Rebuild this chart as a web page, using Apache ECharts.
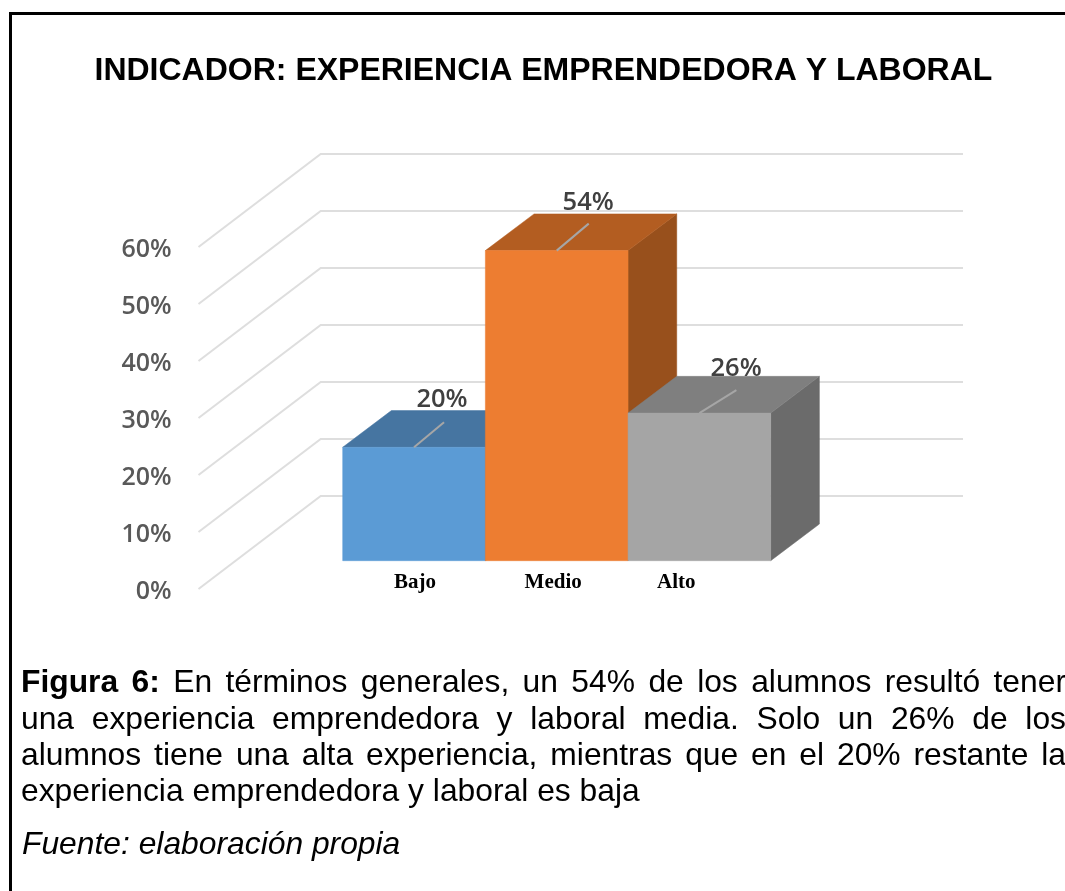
<!DOCTYPE html>
<html><head><meta charset="utf-8">
<style>html,body{margin:0;padding:0;background:#fff}#c{width:1065px;height:891px}</style>
<script src="https://cdn.jsdelivr.net/npm/echarts@6/dist/echarts.min.js"></script>
</head><body><div id="c"></div>
<script>
const categories = ['Bajo', 'Medio', 'Alto'];
const values = [19.9, 54.4, 25.9];
const yTicks = [0, 10, 20, 30, 40, 50, 60];
const titleText = 'INDICADOR: EXPERIENCIA EMPRENDEDORA Y LABORAL';
const bodyBold = ['Figura', '6:'];
const bodyLines = [
  'En términos generales, un 54% de los alumnos resultó tener',
  'una experiencia emprendedora y laboral media. Solo un 26% de los',
  'alumnos tiene una alta experiencia, mientras que en el 20% restante la'
];
const bodyLast = 'experiencia emprendedora y laboral es baja';
const sourceText = 'Fuente: elaboración propia';

const palette = [
  {front: '#5B9BD5', top: '#4675A1', side: '#3E6890'},
  {front: '#ED7D31', top: '#B35D21', side: '#98501C'},
  {front: '#A5A5A5', top: '#7F7F7F', side: '#6B6B6B'}
];
const leaderDx = [30, 32, 37], leaderDy = [-25, -27, -23];
const labelDx = [28, 31.5, 36.7], labelDy = [-47.5, -47.5, -44.5];
const catDx = [1, -3.5, -23];
const chart = echarts.init(document.getElementById('c'));

const BF = 'Liberation Sans';
const bodySize = 31.8, lineCy = [683, 720, 756.5, 792.5];
const ctx = document.createElement('canvas').getContext('2d');
const g = [
  {type: 'rect', shape: {x: 9, y: 12, width: 1056, height: 3}, style: {fill: '#000'}},
  {type: 'rect', shape: {x: 9, y: 12, width: 3, height: 879}, style: {fill: '#000'}},
  {type: 'text', style: {text: titleText, x: 94.5, y: 71, font: 'bold 32px "' + BF + '"', fill: '#000', verticalAlign: 'middle'}}
];
function justified(words, cy, x0, x1) {
  const fonts = words.map(w => (w.b ? 'bold ' : '') + bodySize + 'px "' + BF + '"');
  let total = 0;
  const ws = words.map((w, i) => { ctx.font = fonts[i]; const m = ctx.measureText(w.t).width; total += m; return m; });
  const gap = (x1 - x0 - total) / (words.length - 1);
  let x = x0;
  words.forEach((w, i) => {
    g.push({type: 'text', style: {text: w.t, x: x, y: cy, font: fonts[i], fill: '#000', verticalAlign: 'middle'}});
    x += ws[i] + gap;
  });
}
bodyLines.forEach((l, i) => {
  const words = l.split(' ').map(t => ({t: t}));
  const full = i === 0 ? bodyBold.map(t => ({t: t, b: true})).concat(words) : words;
  justified(full, lineCy[i], 21, 1066);
});
g.push({type: 'text', style: {text: bodyLast, x: 21, y: lineCy[3], font: bodySize + 'px "' + BF + '"', fill: '#000', verticalAlign: 'middle'}});
g.push({type: 'text', style: {text: sourceText, x: 22, y: 845, font: 'italic ' + bodySize + 'px "' + BF + '"', fill: '#000', verticalAlign: 'middle'}});

const lineStyle = {stroke: '#DEDEDE', lineWidth: 2, fill: null};
chart.setOption({
  animation: false,
  backgroundColor: '#fff',
  graphic: g,
  grid: {left: 342.7, width: 428, top: 247, height: 342},
  xAxis: {type: 'category', data: categories, show: false},
  yAxis: {
    type: 'value', min: 0, max: 60, interval: 10,
    axisLine: {show: false}, axisTick: {show: false}, splitLine: {show: false},
    axisLabel: {margin: 171, verticalAlign: 'top', lineHeight: 6, formatter: '{value}%', color: '#595959', fontFamily: 'Open Sans', fontWeight: 600, fontSize: 25}
  },
  series: [
    {
      type: 'custom', z: 1, silent: true,
      encode: {x: 0, y: 1},
      data: yTicks.map(t => [0, t]),
      renderItem(params, api) {
        const y = api.coord([0, api.value(1)])[1];
        return {type: 'polyline', shape: {points: [[198.5, y], [320.7, y - 93], [963, y - 93]]}, style: lineStyle};
      }
    },
    {
      type: 'custom', z: 2, silent: true,
      encode: {x: 0, y: 1},
      data: values.map((v, i) => [i, v]),
      renderItem(params, api) {
        const i = api.value(0), v = api.value(1);
        const c = api.coord([i, v]);
        const w = api.size([1, 0])[0];
        const drop = 28.3, dx = 48.7, dy = -36.7;
        const x0 = c[0] - w / 2, x1 = c[0] + w / 2;
        const yt = c[1] - drop, yb = api.coord([i, 0])[1] - drop;
        const col = palette[i];
        const poly = (pts, fill) => ({type: 'polygon', shape: {points: pts}, style: {fill: fill, stroke: fill, lineWidth: 0.5}});
        return {type: 'group', children: [
          {type: 'text', style: {text: Math.round(v) + '%', x: c[0] + labelDx[i], y: yt + labelDy[i], align: 'center', verticalAlign: 'middle',
            font: '600 25.5px "Open Sans"', fill: '#404040'}},
          poly([[x1, yt], [x1 + dx, yt + dy], [x1 + dx, yb + dy], [x1, yb]], col.side),
          poly([[x0, yt], [x0 + dx, yt + dy], [x1 + dx, yt + dy], [x1, yt]], col.top),
          poly([[x0, yt], [x1, yt], [x1, yb], [x0, yb]], col.front),
          {type: 'line', shape: {x1: c[0], y1: yt, x2: c[0] + leaderDx[i], y2: yt + leaderDy[i]}, style: {stroke: '#A6A6A6', lineWidth: 2}},
          {type: 'text', style: {text: categories[i], x: c[0] + catDx[i], y: 583, align: 'center', verticalAlign: 'middle',
            font: 'bold 21px "Liberation Serif"', fill: '#000'}}
        ]};
      }
    }
  ]
});
</script></body></html>
